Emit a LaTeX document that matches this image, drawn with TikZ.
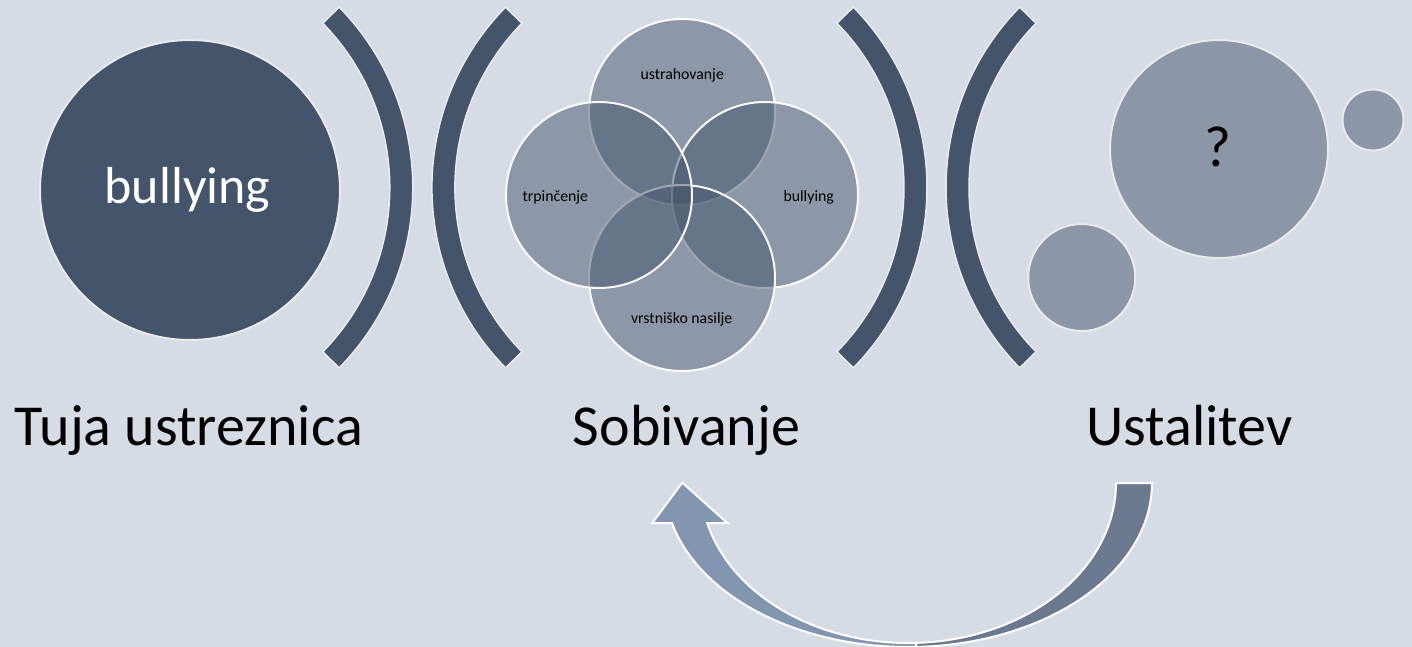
\documentclass[tikz,border=0pt]{standalone}
\usepackage{fontspec}
\setmainfont{Carlito}
\definecolor{bgc}{RGB}{214,220,229}
\definecolor{slate}{RGB}{68,84,106}
\definecolor{greyc}{RGB}{139,151,167}
\definecolor{lineg}{RGB}{232,234,236}
\definecolor{arrL}{RGB}{131,150,176}
\definecolor{arrR}{RGB}{107,122,143}
\tikzset{
  bandarc/.style={fill=slate, draw=lineg, line width=1.5pt},
  bigdisc/.style={fill=slate, draw=lineg, line width=2pt},
  venn/.style={fill=slate, fill opacity=0.5, draw=white, draw opacity=0.95, line width=2pt},
  greydisc/.style={fill=greyc, draw=lineg, line width=2pt},
  mainlabel/.style={font=\fontsize{58}{60}\selectfont, text=black, anchor=base, inner sep=0pt},
  vennlabel/.style={font=\fontsize{15.8}{18}\selectfont, text=black, anchor=base, inner sep=0pt},
  arrowpart/.style={draw=white, line width=2pt, line join=miter}
}
\begin{document}
\begin{tikzpicture}[x=1pt,y=1pt]
\fill[bgc] (0,0) rectangle (1412,-647);
\useasboundingbox (0,0) rectangle (1412,-647);

% big dark circle
\node[circle, bigdisc, minimum size=300pt, inner sep=0pt] (big) at (190,-190) {};
\node[font=\fontsize{52}{56}\selectfont, text=white, anchor=base, inner sep=0pt] (bigtxt) at (187.5,-203) {bullying};

% arcs
\draw[bandarc] ([shift={(44.4:257.8)}]155,-187.5) arc[start angle=44.4, end angle=-44.4, radius=257.8]
   -- ([shift={(-44.4:234.8)}]155,-187.5) arc[start angle=-44.4, end angle=44.4, radius=234.8] -- cycle;
\draw[bandarc] ([shift={(135.6:257.8)}]689.7,-187.5) arc[start angle=135.6, end angle=224.4, radius=257.8]
   -- ([shift={(224.4:234.8)}]689.7,-187.5) arc[start angle=224.4, end angle=135.6, radius=234.8] -- cycle;
\draw[bandarc] ([shift={(44.4:257.8)}]669.2,-187.5) arc[start angle=44.4, end angle=-44.4, radius=257.8]
   -- ([shift={(-44.4:234.8)}]669.2,-187.5) arc[start angle=-44.4, end angle=44.4, radius=234.8] -- cycle;
\draw[bandarc] ([shift={(135.6:257.8)}]1203.8,-187.5) arc[start angle=135.6, end angle=224.4, radius=257.8]
   -- ([shift={(224.4:234.8)}]1203.8,-187.5) arc[start angle=224.4, end angle=135.6, radius=234.8] -- cycle;

% venn
\draw[venn] (682,-112) circle[radius=93];
\draw[venn] (765,-195) circle[radius=93];
\draw[venn] (682,-278) circle[radius=93];
\draw[venn] (599,-195) circle[radius=93];
\node[vennlabel] (v1) at (682.2,-80) {ustrahovanje};
\node[vennlabel] (v2) at (555.3,-201.7) {trpinčenje};
\node[vennlabel] (v3) at (808.7,-201.7) {bullying};
\node[vennlabel] (v4) at (681.7,-323) {vrstniško nasilje};

% right circles
\node[circle, greydisc, minimum size=218pt, inner sep=0pt] (q) at (1219,-149) {};
\node[font=\fontsize{58}{60}\selectfont, text=black, anchor=base, inner sep=0pt] (qt) at (1218,-167) {?};
\node[circle, greydisc, minimum size=61pt, inner sep=0pt] (s1) at (1373,-120) {};
\node[circle, greydisc, minimum size=107pt, inner sep=0pt] (s2) at (1081.7,-277.5) {};

% labels
\node[mainlabel] (l1) at (189,-445) {Tuja ustreznica};
\node[mainlabel] (l2) at (686.5,-445) {Sobivanje};
\node[mainlabel] (l3) at (1189.5,-445) {Ustalitev};

% curved arrow
\draw[arrowpart, fill=arrR] (1152,-483) arc[start angle=0, end angle=-92, x radius=243.7, y radius=164]
   -- ([shift={(-92:207.7 and 160)}]908.3,-483) arc[start angle=-92, end angle=0, x radius=207.7, y radius=160] -- cycle;
\draw[arrowpart, fill=arrL] ([shift={(-88:243.7 and 164)}]908.3,-483) arc[start angle=-88, end angle=-165.88, x radius=243.7, y radius=164]
   -- (652.3,-523) -- (682.3,-482.7) -- (727.3,-523) -- (707.2,-523)
   arc[start angle=-165.52, end angle=-88, x radius=207.7, y radius=160] -- cycle;
\end{tikzpicture}
\end{document}
